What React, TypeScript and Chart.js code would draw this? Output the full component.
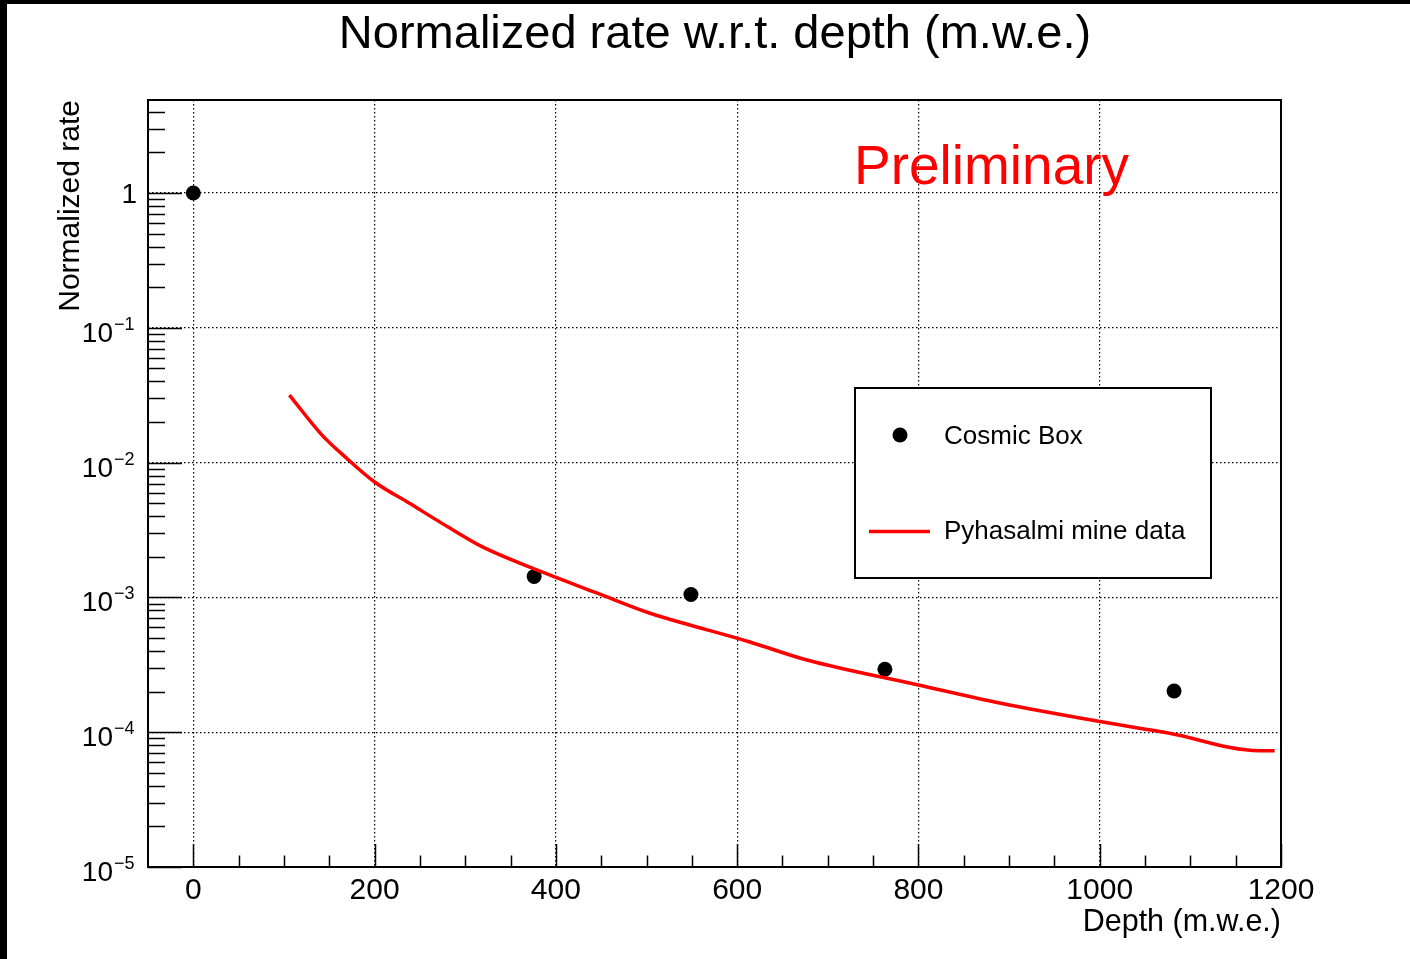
import React, { useEffect, useRef } from 'react';
import { Chart, registerables } from 'chart.js';

Chart.register(...registerables);

const FONT = '"Liberation Sans", Arial, Helvetica, sans-serif';

const chartTitle = 'Normalized rate w.r.t. depth (m.w.e.)';
const xAxisTitle = 'Depth (m.w.e.)';
const yAxisTitle = 'Normalized rate';
const watermark = 'Preliminary';

const cosmicLabel = 'Cosmic Box';
const cosmicDepth = [0, 376, 549, 763, 1082];
const cosmicRate = [1.0, 1.43e-3, 1.05e-3, 2.93e-4, 2.02e-4];

const pyhLabel = 'Pyhasalmi mine data';
const pyhDepth = [106, 142, 169, 200, 238, 283, 319, 379, 445, 503, 540, 614, 677, 800, 891, 1000, 1077, 1176, 1193];
const pyhRate = [
  3.17e-2, 1.6e-2, 1.08e-2, 7.18e-3, 5.01e-3, 3.27e-3, 2.37e-3, 1.6e-3, 1.08e-3, 7.66e-4,
  6.46e-4, 4.67e-4, 3.43e-4, 2.24e-4, 1.64e-4, 1.2e-4, 9.82e-5, 7.29e-5, 7.29e-5,
];

const xTickValues = [0, 200, 400, 600, 800, 1000, 1200];
const xTickLabels = ['0', '200', '400', '600', '800', '1000', '1200'];
const yTickValues = [1e-5, 1e-4, 1e-3, 1e-2, 1e-1, 1];
const yTickBase = ['10', '10', '10', '10', '10', '1'];
const yTickExp = ['\u22125', '\u22124', '\u22123', '\u22122', '\u22121', ''];

const xMin = -50;
const xMax = 1200;
const yMin = 1e-5;
const yMax = 4.9;

const rootStyle = {
  id: 'rootStyle',
  beforeDatasetsDraw(chart: any) {
    const { ctx, chartArea: a } = chart;
    const xs = chart.scales.x;
    const ys = chart.scales.y;
    ctx.save();
    ctx.strokeStyle = '#000';
    ctx.lineWidth = 1.5;
    ctx.beginPath();
    for (let v = 0; v <= xMax; v += 50) {
      const px = Math.round(xs.getPixelForValue(v)) + 0.5;
      const len = v % 200 === 0 ? 23 : 11.5;
      ctx.moveTo(px, a.bottom);
      ctx.lineTo(px, a.bottom - len);
    }
    for (let e = -5; e <= 0; e++) {
      for (let k = 1; k <= 9; k++) {
        const v = k * Math.pow(10, e);
        if (v > yMax) break;
        const py = Math.round(ys.getPixelForValue(v)) + 0.5;
        const len = k === 1 ? 34 : 17;
        ctx.moveTo(a.left, py);
        ctx.lineTo(a.left + len, py);
      }
    }
    ctx.stroke();
    ctx.lineWidth = 2;
    ctx.strokeRect(a.left, a.top, a.right - a.left, a.bottom - a.top);

    ctx.fillStyle = '#000';
    ctx.textBaseline = 'alphabetic';
    yTickValues.forEach((v, i) => {
      const py = ys.getPixelForValue(v);
      if (!yTickExp[i]) {
        ctx.font = `28px ${FONT}`;
        ctx.textAlign = 'right';
        ctx.fillText(yTickBase[i], 137, py + 9.5);
      } else {
        ctx.font = `28px ${FONT}`;
        ctx.textAlign = 'right';
        ctx.fillText(yTickBase[i], 113, py + 14);
        ctx.font = `18px ${FONT}`;
        ctx.textAlign = 'left';
        ctx.fillText(yTickExp[i], 114, py + 2);
      }
    });
    ctx.restore();
  },
  afterDatasetsDraw(chart: any) {
    const { ctx } = chart;
    ctx.save();
    ctx.fillStyle = '#000';
    ctx.font = `47px ${FONT}`;
    ctx.textAlign = 'center';
    ctx.textBaseline = 'alphabetic';
    ctx.fillText(chartTitle, 715, 48);

    ctx.fillStyle = '#ff0000';
    ctx.font = `55px ${FONT}`;
    ctx.textAlign = 'left';
    ctx.fillText(watermark, 854, 184);

    ctx.fillStyle = '#fff';
    ctx.fillRect(855, 388, 356, 190);
    ctx.strokeStyle = '#000';
    ctx.lineWidth = 2;
    ctx.strokeRect(855, 388, 356, 190);

    ctx.fillStyle = '#000';
    ctx.beginPath();
    ctx.arc(900, 435, 7.5, 0, Math.PI * 2);
    ctx.fill();

    ctx.strokeStyle = '#ff0000';
    ctx.lineWidth = 3.5;
    ctx.beginPath();
    ctx.moveTo(869, 531.5);
    ctx.lineTo(930, 531.5);
    ctx.stroke();

    ctx.fillStyle = '#000';
    ctx.font = `26px ${FONT}`;
    ctx.textAlign = 'left';
    ctx.fillText(cosmicLabel, 944, 444);
    ctx.fillText(pyhLabel, 944, 539);
    ctx.restore();
  },
};

export default function App() {
  const ref = useRef<HTMLCanvasElement | null>(null);

  useEffect(() => {
    const canvas = ref.current;
    if (!canvas) return;
    const chart = new Chart(canvas, {
      type: 'scatter',
      data: {
        datasets: [
          {
            label: pyhLabel,
            data: pyhDepth.map((d, i) => ({ x: d, y: pyhRate[i] })),
            showLine: true,
            borderColor: '#ff0000',
            backgroundColor: '#ff0000',
            borderWidth: 3.5,
            pointRadius: 0,
            cubicInterpolationMode: 'monotone',
          },
          {
            label: cosmicLabel,
            data: cosmicDepth.map((d, i) => ({ x: d, y: cosmicRate[i] })),
            showLine: false,
            pointRadius: 7.5,
            pointBackgroundColor: '#000',
            pointBorderWidth: 0,
            backgroundColor: '#000',
            borderColor: '#000',
          },
        ],
      },
      options: {
        responsive: false,
        animation: false,
        devicePixelRatio: 1,
        layout: { padding: { top: 100, right: 129, left: 0, bottom: 0 } },
        plugins: {
          legend: { display: false },
          title: { display: false },
          tooltip: { enabled: false },
        },
        scales: {
          x: {
            type: 'linear',
            min: xMin,
            max: xMax,
            afterBuildTicks: (s: any) => {
              s.ticks = xTickValues.map((v) => ({ value: v }));
            },
            afterFit: (s: any) => {
              s.height = 92;
            },
            grid: { color: '#000', lineWidth: 1.2, drawTicks: false },
            border: { display: false, dash: [1.5, 2.5] },
            ticks: {
              autoSkip: false,
              maxRotation: 0,
              padding: 6,
              color: '#000',
              font: { family: FONT, size: 30 },
              callback: (v: any) => {
                const i = xTickValues.indexOf(Number(v));
                return i >= 0 ? xTickLabels[i] : '';
              },
            },
            title: {
              display: true,
              text: xAxisTitle,
              align: 'end',
              color: '#000',
              font: { family: FONT, size: 30.5 },
              padding: { top: 0, bottom: 18 },
            },
          },
          y: {
            type: 'logarithmic',
            min: yMin,
            max: yMax,
            afterBuildTicks: (s: any) => {
              s.ticks = yTickValues.map((v) => ({ value: v }));
            },
            afterFit: (s: any) => {
              s.width = 148;
            },
            grid: { color: '#000', lineWidth: 1.2, drawTicks: false },
            border: { display: false, dash: [1.5, 2.5] },
            ticks: { display: false },
            title: {
              display: true,
              text: yAxisTitle,
              align: 'end',
              color: '#000',
              font: { family: FONT, size: 30 },
              padding: { top: 53, bottom: 0 },
            },
          },
        },
      },
      plugins: [rootStyle],
    } as any);
    return () => chart.destroy();
  }, []);

  return (
    <div style={{ position: 'relative', width: 1410, height: 959, background: '#fff' }}>
      <style>{'body{margin:0;background:#fff;}'}</style>
      <canvas ref={ref} width={1410} height={959} style={{ display: 'block', width: 1410, height: 959 }} />
      <div style={{ position: 'absolute', left: 0, top: 0, width: 7, height: 959, background: '#000' }} />
      <div style={{ position: 'absolute', left: 0, top: 0, width: 1410, height: 4, background: '#000' }} />
    </div>
  );
}
